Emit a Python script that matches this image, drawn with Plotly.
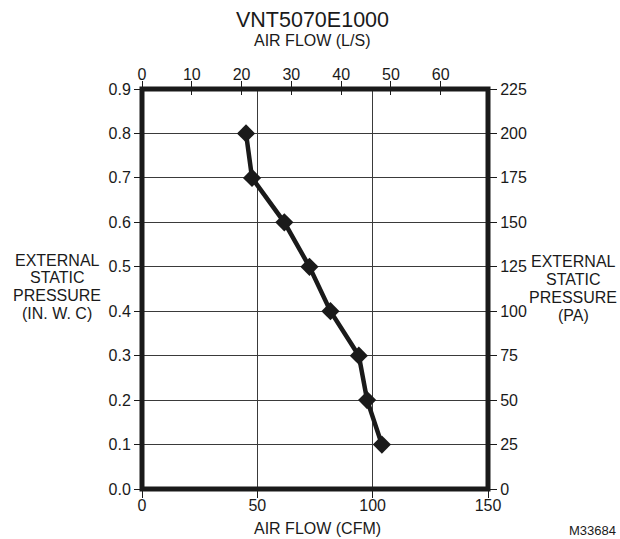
import plotly.graph_objects as go

cfm = [45.1, 47.7, 61.7, 72.6, 81.7, 94.0, 97.6, 104.0]
pressure_inwc = [0.8, 0.7, 0.6, 0.5, 0.4, 0.3, 0.2, 0.1]
left_ticks = [0.0, 0.1, 0.2, 0.3, 0.4, 0.5, 0.6, 0.7, 0.8, 0.9]
right_ticks = [0, 25, 50, 75, 100, 125, 150, 175, 200, 225]
bottom_ticks = [0, 50, 100, 150]
top_ticks = [0, 10, 20, 30, 40, 50, 60]
left_title = ["EXTERNAL", "STATIC", "PRESSURE", "(IN. W. C)"]
right_title = ["EXTERNAL", "STATIC", "PRESSURE", "(PA)"]

FONT = "Liberation Sans, Arial, sans-serif"
INK = "#1a1a1a"
GRID = "#3a3a3a"

W, H = 620, 539
L, T, R, B = 142, 89, W - 488, H - 489

fig = go.Figure()
fig.add_trace(go.Scatter(
    x=cfm, y=pressure_inwc, mode="lines+markers",
    line=dict(color=INK, width=4.5),
    marker=dict(symbol="diamond", size=14, color=INK),
    showlegend=False, cliponaxis=False, hoverinfo="skip",
))
for xa, ya in [("x2", "y"), ("x3", "y"), ("x4", "y"), ("x5", "y"), ("x", "y2")]:
    fig.add_trace(go.Scatter(x=[None], y=[None], xaxis=xa, yaxis=ya, showlegend=False))

tickfont = dict(family=FONT, size=16, color=INK)
common = dict(zeroline=False, showline=False, tickcolor=INK, tickwidth=1)

fig.update_layout(
    width=W, height=H,
    margin=dict(l=L, r=R, t=T, b=B, pad=0),
    paper_bgcolor="white", plot_bgcolor="white",
    xaxis=dict(range=[0, 150], tickvals=bottom_ticks, ticks="", showgrid=True,
               gridcolor=GRID, gridwidth=1, tickfont=tickfont, ticklabelstandoff=5,
               **common),
    xaxis4=dict(overlaying="x", side="bottom", range=[0, 150], tickvals=bottom_ticks,
                ticks="outside", ticklen=8, showgrid=False, showticklabels=False, **common),
    xaxis2=dict(overlaying="x", side="top", range=[0, 69.5], tickvals=top_ticks,
                ticks="", showgrid=False, tickfont=tickfont, ticklabelstandoff=5, **common),
    xaxis3=dict(overlaying="x", side="top", range=[0, 69.5], tickvals=top_ticks,
                ticks="inside", ticklen=6, showgrid=False, showticklabels=False, **common),
    xaxis5=dict(overlaying="x", side="top", range=[0, 69.5], tickvals=top_ticks,
                ticks="outside", ticklen=7, showgrid=False, showticklabels=False, **common),
    yaxis=dict(range=[0, 0.9], tickvals=left_ticks, tickformat=".1f", ticks="outside",
               ticklen=7, showgrid=True, gridcolor=GRID, gridwidth=1, tickfont=tickfont,
               **common),
    yaxis2=dict(overlaying="y", side="right", range=[0, 225], tickvals=right_ticks,
                ticks="outside", ticklen=8, showgrid=False, tickfont=tickfont, **common),
    shapes=[dict(type="rect", xref="paper", yref="paper", x0=0, x1=1, y0=0, y1=1,
                 line=dict(color=INK, width=5), layer="above")],
)

# annotations placed by page pixel centre
labels = [
    ("VNT5070E1000", 312, 20, 21.5),
    ("AIR FLOW (L/S)", 312, 41, 16),
    ("AIR FLOW (CFM)", 317, 528, 16),
    ("M33684", 592, 530, 13),
]
for i, line in enumerate(left_title):
    labels.append((line, 57, 260 + i * 17.7, 16))
for i, line in enumerate(right_title):
    labels.append((line, 573, 261 + i * 18, 16))

pw, ph = W - L - R, H - T - B
for text, px, py, size in labels:
    fig.add_annotation(
        text=text, xref="paper", yref="paper",
        x=(px - L) / pw, y=(H - B - py) / ph,
        xanchor="center", yanchor="middle", showarrow=False, align="center",
        font=dict(family=FONT, size=size, color=INK),
    )

fig.write_html(
    "out.html",
    config={"displayModeBar": False},
    post_script="document.body.style.margin='0';document.body.style.overflow='hidden';",
)
